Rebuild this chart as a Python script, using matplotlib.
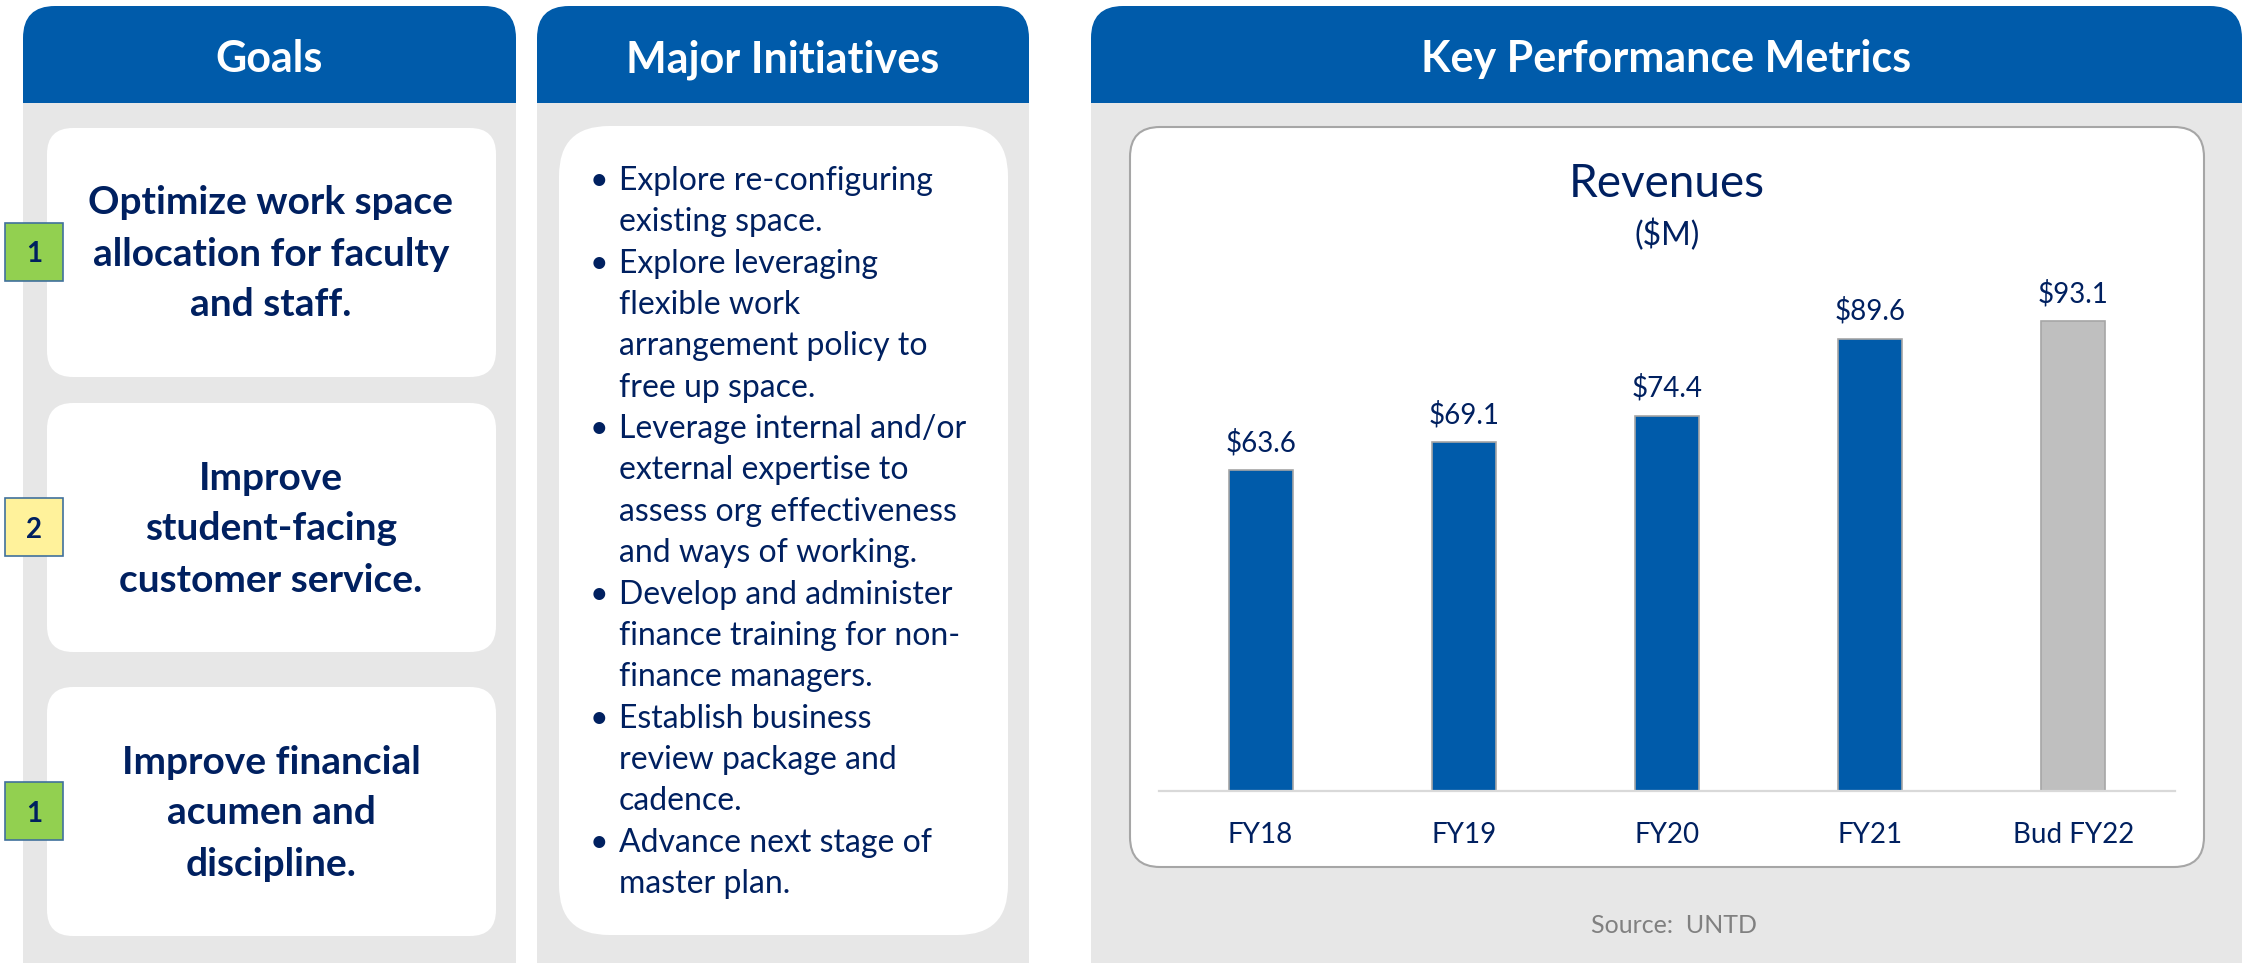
import matplotlib
matplotlib.use("Agg")
import matplotlib.pyplot as plt
from matplotlib.patches import FancyBboxPatch, Rectangle

plt.rcParams['font.family'] = ['Lato', 'DejaVu Sans']

W, H = 2244, 963
NAVY = '#002060'
BLUE = '#005BAA'
PANEL = '#E7E7E7'

# data
headers = ["Goals", "Major Initiatives", "Key Performance Metrics"]
goals = [
    ["Optimize work space", "allocation for faculty", "and staff."],
    ["Improve", "student-facing", "customer service."],
    ["Improve financial", "acumen and", "discipline."],
]
goal_status = ["1", "2", "1"]
status_colors = {"1": '#92D050', "2": '#FFF29B'}
initiatives = [
    ["Explore re-configuring", "existing space."],
    ["Explore leveraging", "flexible work", "arrangement policy to", "free up space."],
    ["Leverage internal and/or", "external expertise to", "assess org effectiveness",
     "and ways of working."],
    ["Develop and administer", "finance training for non-", "finance managers."],
    ["Establish business", "review package and", "cadence."],
    ["Advance next stage of", "master plan."],
]
years = ["FY18", "FY19", "FY20", "FY21", "Bud FY22"]
revenues = [63.6, 69.1, 74.4, 89.6, 93.1]
is_budget = [False, False, False, False, True]

fig = plt.figure(figsize=(W / 100, H / 100), dpi=100)
bg = fig.add_axes([0, 0, 1, 1])
bg.set_xlim(0, W)
bg.set_ylim(H, 0)
bg.axis('off')


def rbox(x0, y0, x1, y1, r, fc, ec='none', lw=0, z=1):
    p = FancyBboxPatch((x0, y0), x1 - x0, y1 - y0,
                       boxstyle=f"round,pad=0,rounding_size={r}",
                       fc=fc, ec=ec, lw=lw, zorder=z)
    bg.add_patch(p)


# panels with blue headers
panels = [(23, 516), (537, 1029), (1091, 2242)]
for (x0, x1), title in zip(panels, headers):
    bg.add_patch(Rectangle((x0, 103), x1 - x0, H - 103, fc=PANEL, ec='none', zorder=1))
    rbox(x0, 6, x1, 103, 32, BLUE)
    bg.add_patch(Rectangle((x0, 55), x1 - x0, 48, fc=BLUE, ec='none', zorder=1))
    bg.text((x0 + x1) / 2, 72, title, color='white', fontsize=31, fontweight='bold',
            ha='center', va='baseline', zorder=3)

# goals
goal_boxes = [(128, 377), (403, 652), (687, 936)]
for (y0, y1), lines, st in zip(goal_boxes, goals, goal_status):
    rbox(47, y0, 496, y1, 26, 'white', z=2)
    cy = (y0 + y1) / 2
    for i, ln in enumerate(lines):
        bg.text(271, cy + 13 + (i - 1) * 51, ln, color=NAVY, fontsize=28,
                fontweight='bold', ha='center', va='baseline', zorder=3)
    bg.add_patch(Rectangle((5, cy - 29), 58, 58, fc=status_colors[st],
                           ec='#41719C', lw=1.2, zorder=4))
    bg.text(34, cy + 10, st, color=NAVY, fontsize=20, fontweight='bold',
            ha='center', va='baseline', zorder=5)

# initiatives
rbox(559, 126, 1008, 935, 50, 'white', z=2)
row = 0
for item in initiatives:
    for j, ln in enumerate(item):
        yb = 190 + row * 41.35
        if j == 0:
            bg.text(599, yb, "\u2022", color=NAVY, fontsize=23, ha='center',
                    va='baseline', zorder=3)
        bg.text(619, yb, ln, color=NAVY, fontsize=23, ha='left', va='baseline', zorder=3)
        row += 1

# KPM chart card
rbox(1130, 127, 2204, 867, 30, 'white', ec='#A6A6A6', lw=1.5, z=2)
bg.text(1667, 197, "Revenues", color=NAVY, fontsize=33, ha='center', va='baseline', zorder=3)
bg.text(1667, 245, "($M)", color=NAVY, fontsize=23, ha='center', va='baseline', zorder=3)
bg.text(1674, 933, "Source:  UNTD", color='#808080', fontsize=18, ha='center',
        va='baseline', zorder=3)

ax_top, ax_base = 250, 791
ax = fig.add_axes([1159 / W, (H - ax_base) / H, (2175 - 1159) / W, (ax_base - ax_top) / H])
ax.set_zorder(5)
ax.patch.set_visible(False)
x = list(range(len(years)))
colors = ['#BFBFBF' if b else BLUE for b in is_budget]
ax.bar(x, revenues, width=0.315, color=colors, edgecolor='#A6A6A6', linewidth=1.2)
ax.set_xlim(-0.5, len(years) - 0.5)
ax.set_ylim(0, (ax_base - ax_top) / 5.045)
for v, xi in zip(revenues, x):
    ax.annotate(f"${v:.1f}", (xi, v), xytext=(0, 13.7), textcoords='offset points',
                ha='center', va='baseline', color=NAVY, fontsize=20)
ax.set_xticks(x, years)
ax.tick_params(axis='x', length=0, pad=22, labelsize=20, labelcolor=NAVY)
ax.set_yticks([])
for s in ['top', 'left', 'right']:
    ax.spines[s].set_visible(False)
ax.spines['bottom'].set_color('#D9D9D9')
ax.spines['bottom'].set_linewidth(1.6)

fig.savefig("out.png", dpi=100)
